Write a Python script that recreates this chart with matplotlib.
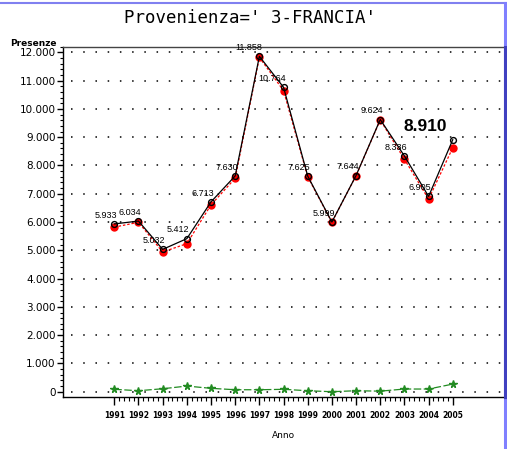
import numpy as np
import matplotlib
matplotlib.use("Agg")
import matplotlib.pyplot as plt
from matplotlib.lines import Line2D
from matplotlib.ticker import MultipleLocator, FuncFormatter, FixedLocator

# dati
anni = [1991, 1992, 1993, 1994, 1995, 1996, 1997, 1998, 1999, 2000, 2001, 2002, 2003, 2004, 2005]
presenze = [5933, 6034, 5032, 5412, 6713, 7630, 11858, 10764, 7625, 5999, 7644, 9624, 8336, 6905, 8910]
presenze_rosso = [5820, 5990, 4940, 5235, 6607, 7547, 11820, 10646, 7600, 5990, 7640, 9610, 8220, 6810, 8627]
presenze_verde = [85, 35, 105, 200, 120, 70, 70, 85, 35, 0, 35, 20, 95, 95, 270]
etichette = ["5.933", "6.034", "5.032", "5.412", "6.713", "7.630", "11.858", "10.764",
             "7.625", "5.999", "7.644", "9.624", "8.336", "6.905", ""]
ultimo = "8.910"

fig = plt.figure(figsize=(5.07, 4.49), dpi=100)
ax = fig.add_axes([0.1233, 0.1158, 0.9941 - 0.1233, 0.8964 - 0.1158])

ax.plot(anni, presenze_verde, color="#228b22", linestyle=(0, (6, 2)), linewidth=0.9,
        marker="*", markersize=5.5, zorder=3)
ax.plot(anni, presenze_rosso, color="red", linestyle=(0, (2, 1.5)), linewidth=0.9,
        marker="o", markersize=5, markerfacecolor="red", markeredgecolor="red", zorder=4)
ax.plot(anni, presenze, color="black", linewidth=0.9, marker="o", markersize=4.2,
        markerfacecolor="none", markeredgecolor="black", markeredgewidth=1.0, zorder=5)

for x, y, t in zip(anni, presenze, etichette):
    if t:
        ax.annotate(t, (x, y), xytext=(2, 3), textcoords="offset points",
                    ha="right", va="bottom", fontsize=6.5, family="Liberation Sans", zorder=6)
ax.text(2005 - 2.05, 9370, ultimo, fontsize=12.5, fontweight="bold",
        family="Liberation Sans", ha="left", va="center")

ax.set_xlim(1988.857, 2007.12)
ax.set_ylim(-187, 12205)

for v in range(0, 12001, 1000):
    ax.axhline(v, color="black", linestyle=(0, (1, 7)), linewidth=1.1, zorder=1,
               xmin=0.02)

ax.yaxis.set_major_locator(MultipleLocator(1000))
ax.yaxis.set_minor_locator(MultipleLocator(200))
ax.yaxis.set_major_formatter(FuncFormatter(lambda v, p: f"{int(v):,}".replace(",", ".")))
ax.xaxis.set_major_locator(FixedLocator(anni))
ax.xaxis.set_minor_locator(FixedLocator([a + k / 5 for a in anni[:-1] for k in range(1, 5)]))

ax.tick_params(axis="y", which="major", length=4, width=1, labelsize=7.5, pad=1)
ax.tick_params(axis="y", which="minor", length=2, width=0.8)
ax.tick_params(axis="x", which="major", length=6, width=1, labelsize=5.5, pad=4)
ax.tick_params(axis="x", which="minor", length=3, width=0.8)
for lab in ax.get_xticklabels():
    lab.set_fontweight("bold")

ax.spines["right"].set_visible(False)
for s in ["left", "bottom", "top"]:
    ax.spines[s].set_linewidth(1.0)
ax.spines["top"].set_color("#444444")

ax.set_xlabel("Anno", fontsize=6.5, labelpad=8)
fig.text(57 / 507, 1 - 43 / 449, "Presenze", fontsize=6.5, fontweight="bold",
         ha="right", va="center")

fig.suptitle("Provenienza=' 3-FRANCIA'", x=250 / 507, y=1 - 18 / 449,
             va="center", fontsize=12.5, family="DejaVu Sans Mono", color="black")

# cornice blu dello screenshot
fig.add_artist(Line2D([0, 1], [1 - 3 / 449, 1 - 3 / 449], color="#8080f0", linewidth=1.5))
fig.add_artist(Line2D([504.5 / 507, 504.5 / 507], [0, 1 - 3 / 449], color="#8080ff", linewidth=2.2))
fig.add_artist(Line2D([504.5 / 507, 504.5 / 507], [0.1158, 0.8964], color="#4040c0", linewidth=2.2))

fig.savefig("out.png", dpi=100)
